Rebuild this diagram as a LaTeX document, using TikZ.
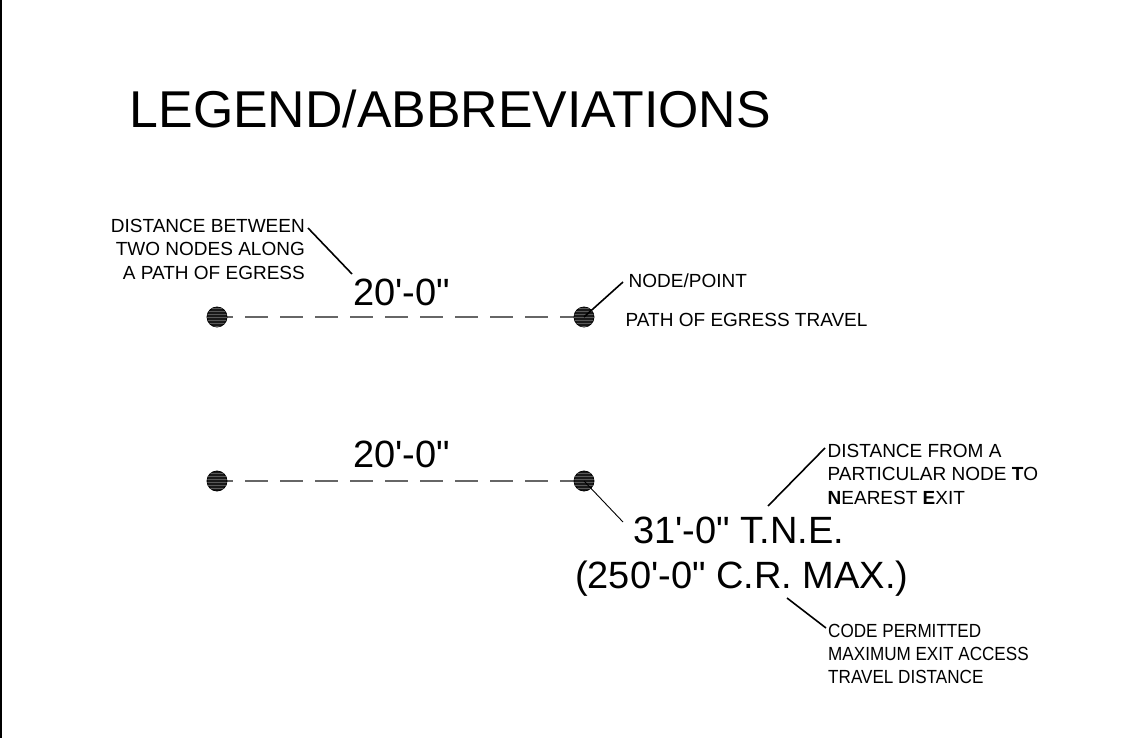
\documentclass[tikz,border=0pt]{standalone}
\usepackage{fontspec}
\setmainfont{Liberation Sans}
\newfontfamily\narrowfont[FakeStretch=0.9]{Liberation Sans}
\usetikzlibrary{patterns,backgrounds}

\newcommand{\ftmark}{\textquotesingle}
\newcommand{\inmark}{\textquotedbl}

\tikzset{
    dot/.style={circle, minimum size=20pt, inner sep=0pt, fill=black!90,
        draw=black, line width=0.8pt,
        postaction={pattern=horizontal lines, pattern color=black!65}},
    egress/.style={draw=black!60, line width=1.5pt,
        dash pattern=on 23pt off 12pt, dash phase=7pt},
    leader/.style={draw=black, line width=1.6pt},
    thinleader/.style={draw=black, line width=0.9pt},
    note/.style={inner sep=0pt, font=\fontsize{19}{23.5}\selectfont},
    dim/.style={inner sep=0pt, font=\fontsize{38}{45}\selectfont}
}

\begin{document}
\begin{tikzpicture}[x=1pt, y=-1pt]
\useasboundingbox (0,0) rectangle (1143,738);

% Sheet edge
\draw[line width=2pt] (1,0) -- (1,738);

% Title
\node[inner sep=0pt, anchor=base west, font=\fontsize{51.8}{60}\selectfont]
    (title) at (129.5,128) {LEGEND/ABBREVIATIONS};

% First row: two nodes along a path
\node[dot] (d1) at (217,317) {};
\node[dot] (d2) at (584,317) {};
\begin{scope}[on background layer]
\draw[egress] (d1.center) -- (d2.center);
\end{scope}
\node[dim, anchor=base west] (len1) at (353,305) {20\ftmark-0\inmark};

% (base of a multi-line node is its last line)
\node[note, align=right, anchor=base east] (between) at (305,279)
    {DISTANCE BETWEEN\\TWO NODES ALONG\\A PATH OF EGRESS};
\coordinate (betweenTip) at (308,228);
\coordinate (len1Tip) at (352,274);
\draw[leader] (betweenTip) -- (len1Tip);

\node[note, anchor=base west] (point) at (628.5,287) {NODE/POINT};
\node[note, anchor=base west] (travel) at (625.5,326) {PATH OF EGRESS TRAVEL};
\coordinate (pointTip) at (623,282);
\draw[leader] (d2.center) -- (pointTip);

% Second row: distance to nearest exit
\node[dot] (d3) at (217,481) {};
\node[dot] (d4) at (584,481) {};
\begin{scope}[on background layer]
\draw[egress] (d3.center) -- (d4.center);
\end{scope}
\node[dim, anchor=base west] (len2) at (353,467) {20\ftmark-0\inmark};

\node[dim, anchor=base west] (tne) at (633,543) {31\ftmark-0\inmark{} T.N.E.};
\node[dim, anchor=base west] (max) at (575,588)
    {(250\ftmark-0\inmark{} C.R. MAX.)};
\coordinate (tneTip) at (623,522);
\draw[thinleader] (d4.center) -- (tneTip);

\node[note, align=left, anchor=base west] (nearest) at (827.5,504)
    {DISTANCE FROM A\\PARTICULAR NODE \textbf{T}O\\\textbf{N}EAREST \textbf{E}XIT};
\coordinate (tneA) at (768,506);
\coordinate (tneB) at (825,448);
\draw[leader] (tneA) -- (tneB);

\node[note, align=left, anchor=base west,
    font=\narrowfont\fontsize{19}{23}\selectfont]
    (code) at (828,683)
    {CODE PERMITTED\\MAXIMUM EXIT ACCESS\\TRAVEL DISTANCE};
\coordinate (maxA) at (787,598);
\coordinate (maxB) at (826,628);
\draw[leader] (maxA) -- (maxB);

\end{tikzpicture}
\end{document}
